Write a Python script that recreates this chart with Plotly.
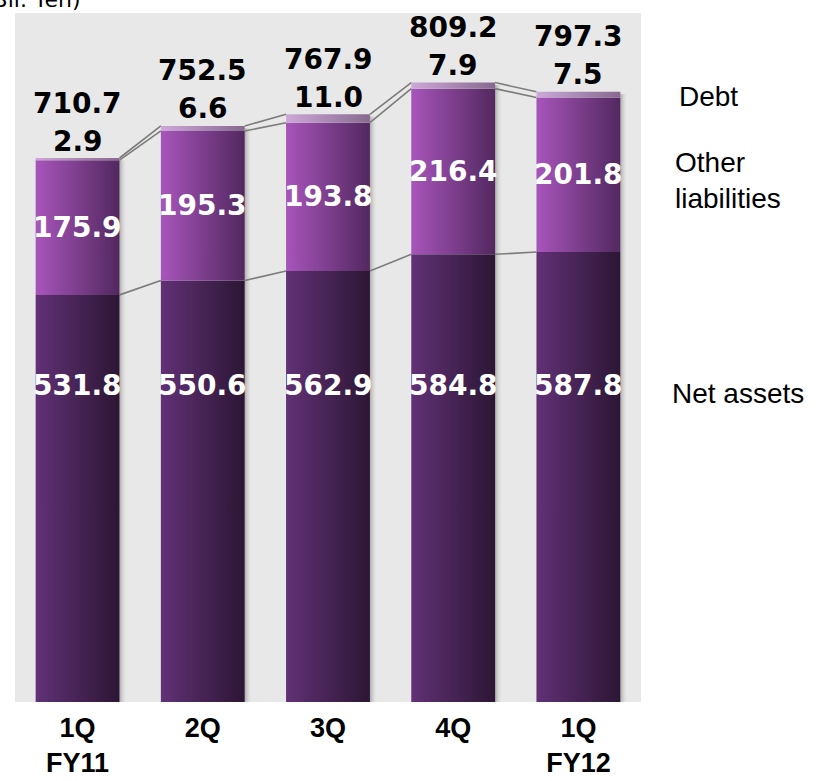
import plotly.graph_objects as go

# Balance sheet breakdown by quarter (billions of yen)
quarters = ["1Q<br>FY11", "2Q", "3Q", "4Q", "1Q<br>FY12"]
net_assets = [531.8, 550.6, 562.9, 584.8, 587.8]
other_liabilities = [175.9, 195.3, 193.8, 216.4, 201.8]
debt = [2.9, 6.6, 11.0, 7.9, 7.5]
totals = [710.7, 752.5, 767.9, 809.2, 797.3]
series_names = ["Net assets", "Other liabilities", "Debt"]

BAR_W = 0.67
NUM_FONT = "DejaVu Sans, Verdana, sans-serif"
TXT_FONT = "Liberation Sans, Arial, sans-serif"
NET_LABEL_LEVEL = 414

n = len(quarters)
lvl_net = net_assets
lvl_other = [a + b for a, b in zip(net_assets, other_liabilities)]
lvl_top = [a + b for a, b in zip(lvl_other, debt)]

segments = [
    ("Net assets", [0.0] * n, lvl_net, "#613176", "#2c1634"),
    ("Other liabilities", lvl_net, lvl_other, "#a855bb", "#52285f"),
    ("Debt", lvl_other, lvl_top, "#cca9d8", "#87698f"),
]

fig = go.Figure()

# soft drop shadow on the right of each column
for i in range(n):
    x0 = i + BAR_W / 2
    x1 = x0 + 0.06
    fig.add_trace(go.Scatter(
        x=[x0, x1, x1, x0, x0], y=[0, 0, lvl_top[i] - 3, lvl_top[i] - 3, 0],
        mode="lines", fill="toself", line=dict(width=0, color="rgba(0,0,0,0)"),
        fillgradient=dict(type="horizontal",
                          colorscale=[[0, "rgba(120,120,120,0.55)"],
                                      [1, "rgba(232,232,232,0)"]]),
        hoverinfo="skip", showlegend=False))

# connector lines between adjacent columns
for levels in (lvl_net, lvl_other, lvl_top):
    xs, ys = [], []
    for i in range(n - 1):
        xs += [i + BAR_W / 2, i + 1 - BAR_W / 2, None]
        ys += [levels[i], levels[i + 1], None]
    fig.add_trace(go.Scatter(x=xs, y=ys, mode="lines",
                             line=dict(color="#7c7c7c", width=1.6),
                             hoverinfo="skip", showlegend=False))

# stacked columns with a left-to-right shading
for name, bottoms, tops, c_left, c_right in segments:
    for i in range(n):
        xl, xr = i - BAR_W / 2, i + BAR_W / 2
        fig.add_trace(go.Scatter(
            x=[xl, xr, xr, xl, xl],
            y=[bottoms[i], bottoms[i], tops[i], tops[i], bottoms[i]],
            mode="lines", fill="toself",
            line=dict(width=0, color="rgba(0,0,0,0)"),
            fillgradient=dict(type="horizontal",
                              colorscale=[[0, c_left], [1, c_right]]),
            name=name, hoverinfo="skip", showlegend=False))

annotations = []
num_font_w = dict(family=NUM_FONT, size=28, color="white")
num_font_k = dict(family=NUM_FONT, size=28, color="black")

for i in range(n):
    # net assets value, placed at a common height
    annotations.append(dict(x=i, y=NET_LABEL_LEVEL, text=f"<b>{net_assets[i]:.1f}</b>",
                            showarrow=False, font=num_font_w,
                            xanchor="center", yanchor="middle"))
    # other liabilities value, centred in its segment
    annotations.append(dict(x=i, y=(lvl_net[i] + lvl_other[i]) / 2,
                            text=f"<b>{other_liabilities[i]:.1f}</b>",
                            showarrow=False, font=num_font_w,
                            xanchor="center", yanchor="middle"))
    # debt value just above the column
    annotations.append(dict(x=i, y=lvl_top[i], yshift=17,
                            text=f"<b>{debt[i]:.1f}</b>",
                            showarrow=False, font=num_font_k,
                            xanchor="center", yanchor="middle"))
    # column total
    annotations.append(dict(x=i, y=lvl_top[i], yshift=55,
                            text=f"<b>{totals[i]:.1f}</b>",
                            showarrow=False, font=num_font_k,
                            xanchor="center", yanchor="middle"))

# series names on the right
side_font = dict(family=TXT_FONT, size=28, color="black")
annotations += [
    dict(xref="paper", yref="y", x=1.058, y=(lvl_other[-1] + lvl_top[-1]) / 2,
         yshift=-2, text="Debt", showarrow=False, font=side_font,
         xanchor="left", yanchor="middle"),
    dict(xref="paper", yref="y", x=1.051, y=(lvl_net[-1] + lvl_other[-1]) / 2,
         yshift=-6, text="Other<br>liabilities", showarrow=False, font=side_font,
         xanchor="left", yanchor="middle", align="left"),
    dict(xref="paper", yref="y", x=1.046, y=NET_LABEL_LEVEL, yshift=-8,
         text="Net assets", showarrow=False, font=side_font,
         xanchor="left", yanchor="middle"),
    dict(xref="paper", yref="paper", x=0.107, y=1.0, yshift=-1,
         text="(Bil. Yen)", showarrow=False,
         font=dict(family=NUM_FONT, size=22, color="black"),
         xanchor="right", yanchor="bottom"),
]

fig.update_layout(
    width=821, height=781,
    margin=dict(l=15, r=180, t=13, b=79, autoexpand=False),
    paper_bgcolor="white", plot_bgcolor="#e8e8e8",
    showlegend=False,
    annotations=annotations,
    xaxis=dict(range=[-0.5, n - 0.5], tickmode="array",
               tickvals=list(range(n)),
               ticktext=[f"<b>{q}</b>" for q in quarters],
               tickfont=dict(family=TXT_FONT, size=27, color="black"),
               ticklabelstandoff=7, automargin=False,
               showgrid=False, zeroline=False, showline=False,
               ticks="", fixedrange=True),
    yaxis=dict(range=[0, 900], visible=False, fixedrange=True),
)

fig.write_html("out.html")
